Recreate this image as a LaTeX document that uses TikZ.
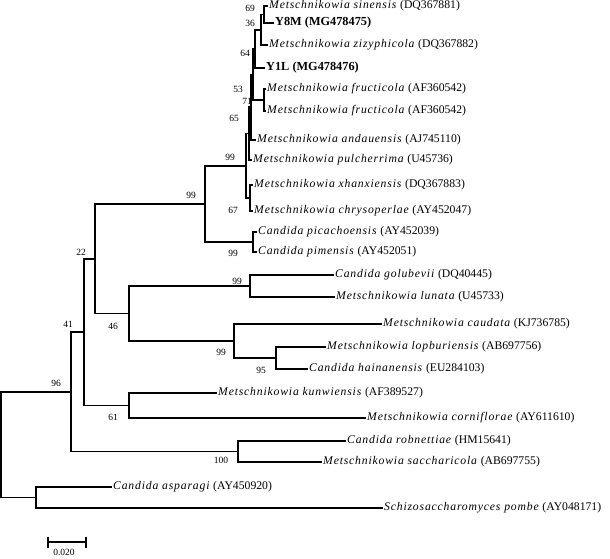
\documentclass[tikz,border=0pt]{standalone}
\usepackage{fontspec}
\setmainfont{Liberation Serif}[ItalicFeatures={LetterSpace=7}]
\usetikzlibrary{calc}
\begin{document}
\begin{tikzpicture}[x=1pt,y=-1pt,
  br/.style={line width=1.6pt, line join=miter, line cap=rect},
  leaf/.style={anchor=west, inner xsep=2pt, inner ysep=0pt, text height=7.5pt, text depth=2.5pt, font=\fontsize{11.7}{12}\selectfont},
  bold/.style={leaf, font=\fontsize{12.3}{13}\selectfont\bfseries},
  bs/.style={inner sep=0pt, font=\fontsize{9.5}{10}\selectfont}]
\useasboundingbox (0,0) rectangle (610,558);
% leaves
\node[leaf] (l1) at (267,6) {\textit{Metschnikowia sinensis} (DQ367881)};
\node[bold] (l2) at (273,23) {Y8M (MG478475)};
\node[leaf] (l3) at (267,45) {\textit{Metschnikowia zizyphicola} (DQ367882)};
\node[bold] (l4) at (264,68) {Y1L (MG478476)};
\node[leaf] (l5) at (265,89) {\textit{Metschnikowia fructicola} (AF360542)};
\node[leaf] (l6) at (265,111) {\textit{Metschnikowia fructicola} (AF360542)};
\node[leaf] (l7) at (255,140) {\textit{Metschnikowia andauensis} (AJ745110)};
\node[leaf] (l8) at (251,160) {\textit{Metschnikowia pulcherrima} (U45736)};
\node[leaf] (l9) at (252,185) {\textit{Metschnikowia xhanxiensis} (DQ367883)};
\node[leaf] (l10) at (252,211) {\textit{Metschnikowia chrysoperlae} (AY452047)};
\node[leaf] (l11) at (256,232) {\textit{Candida picachoensis} (AY452039)};
\node[leaf] (l12) at (256,252) {\textit{Candida pimensis} (AY452051)};
\node[leaf] (l13) at (333,275) {\textit{Candida golubevii} (DQ40445)};
\node[leaf] (l14) at (334,297) {\textit{Metschnikowia lunata} (U45733)};
\node[leaf] (l15) at (381,324) {\textit{Metschnikowia caudata} (KJ736785)};
\node[leaf] (l16) at (325,347) {\textit{Metschnikowia lopburiensis} (AB697756)};
\node[leaf] (l17) at (307,369) {\textit{Candida hainanensis} (EU284103)};
\node[leaf] (l18) at (216,393) {\textit{Metschnikowia kunwiensis} (AF389527)};
\node[leaf] (l19) at (365,418) {\textit{Metschnikowia corniflorae} (AY611610)};
\node[leaf] (l20) at (345,441) {\textit{Candida robnettiae} (HM15641)};
\node[leaf] (l21) at (321,462) {\textit{Metschnikowia saccharicola} (AB697755)};
\node[leaf] (l22) at (111,487) {\textit{Candida asparagi} (AY450920)};
\node[leaf] (l23) at (382,508) {\textit{Schizosaccharomyces pombe} (AY048171)};
% internal nodes
\coordinate (N1) at (264,14.5);
\coordinate (N2) at (261,29.75);
\coordinate (N3) at (255,48.9);
\coordinate (N4) at (264,100);
\coordinate (N5) at (253,74.4);
\coordinate (N6) at (251,107.2);
\coordinate (N7) at (249,133.6);
\coordinate (N8) at (250,198);
\coordinate (N9) at (246,165.8);
\coordinate (N10) at (253,242);
\coordinate (N11) at (205,203.9);
\coordinate (N12) at (250,286);
\coordinate (N13) at (276,358);
\coordinate (N14) at (234,341);
\coordinate (N15) at (129,313.5);
\coordinate (N16) at (95,258.7);
\coordinate (N17) at (129,405.5);
\coordinate (N18) at (84,332);
\coordinate (N19) at (238,451.5);
\coordinate (N20) at (71,391.8);
\coordinate (N21) at (36,497.5);
\coordinate (R) at (1,444.6);
% branches
\draw[br] (l1.west) -| (N1) |- (l2.west);
\draw[br] (N1) -| (N2) |- (l3.west);
\draw[br] (N2) -| (N3) |- (l4.west);
\draw[br] (l5.west) -| (N4) |- (l6.west);
\draw[br] (N3) -| (N5) |- (N4);
\draw[br] (N5) -| (N6) |- (l7.west);
\draw[br] (N6) -| (N7) |- (l8.west);
\draw[br] (l9.west) -| (N8) |- (l10.west);
\draw[br] (N7) -| (N9) |- (N8);
\draw[br] (l11.west) -| (N10) |- (l12.west);
\draw[br] (N9) -| (N11) |- (N10);
\draw[br] (l13.west) -| (N12) |- (l14.west);
\draw[br] (l16.west) -| (N13) |- (l17.west);
\draw[br] (l15.west) -| (N14) |- (N13);
\draw[br] (N12) -| (N15) |- (N14);
\draw[br] (N11) -| (N16) |- (N15);
\draw[br] (l18.west) -| (N17) |- (l19.west);
\draw[br] (N16) -| (N18) |- (N17);
\draw[br] (l20.west) -| (N19) |- (l21.west);
\draw[br] (N18) -| (N20) |- (N19);
\draw[br] (l22.west) -| (N21) |- (l23.west);
\draw[br] (N20) -| (R) |- (N21);
% bootstrap values
\node[bs] (b1) at (250,8) {69};
\node[bs] (b2) at (250,23) {36};
\node[bs] (b3) at (245,53) {64};
\node[bs] (b4) at (238,89) {53};
\node[bs] (b5) at (247,101) {71};
\node[bs] (b6) at (234,118) {65};
\node[bs] (b7) at (230,157) {99};
\node[bs] (b8) at (233,210) {67};
\node[bs] (b9) at (191,195) {99};
\node[bs] (b10) at (233,253) {99};
\node[bs] (b11) at (81,252) {22};
\node[bs] (b12) at (237,281) {99};
\node[bs] (b13) at (113,326) {46};
\node[bs] (b14) at (68,324) {41};
\node[bs] (b15) at (221,352) {99};
\node[bs] (b16) at (261,370) {95};
\node[bs] (b17) at (56,383) {96};
\node[bs] (b18) at (113,417) {61};
\node[bs] (b19) at (221,460) {100};
% scale bar
\coordinate (sbL) at (48,542);
\coordinate (sbR) at (86,542);
\draw[line width=1.6pt] (sbL) -- (sbR);
\draw[line width=1.6pt] ($(sbL)+(0,-5.5)$) -- ($(sbL)+(0,5.5)$);
\draw[line width=1.6pt] ($(sbR)+(0,-5.5)$) -- ($(sbR)+(0,5.5)$);
\node[bs] (sblab) at (64,552) {0.020};
\end{tikzpicture}
\end{document}
